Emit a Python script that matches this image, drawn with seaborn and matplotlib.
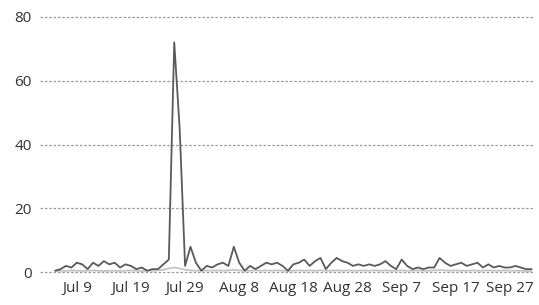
import numpy as np
import pandas as pd
import matplotlib
matplotlib.use("Agg")
import matplotlib.pyplot as plt
import seaborn as sns

start_date = "2020-07-05"
main_values = [
    0.5, 1, 2, 1.5, 3, 2.5, 1, 3, 2, 3.5, 2.5, 3, 1.5, 2.5, 2, 1, 1.5, 0.5, 1, 1,
    2.5, 4, 72, 45, 2, 8, 3, 0.5, 2, 1.5, 2.5, 3, 2, 8, 3, 0.5, 2, 1,
    2, 3, 2.5, 3, 2, 0.5, 2.5, 3, 4, 2, 3.5, 4.5, 1, 3, 4.5, 3.5, 3, 2, 2.5, 2,
    2.5, 2, 2.5, 3.5, 2, 1, 4, 2, 1, 1.5, 1, 1.5, 1.5, 4.5, 3, 2, 2.5, 3, 2, 2.5,
    3, 1.5, 2.5, 1.5, 2, 1.5, 1.5, 2, 1.5, 1, 1,
]
second_values = [
    0.3, 0.5, 0.4, 0.6, 0.5, 0.4, 0.5, 0.6, 0.5, 0.4, 0.5, 0.5, 0.4, 0.5, 0.6, 0.5, 0.4, 0.5, 0.5, 0.6,
    0.8, 1.2, 1.5, 1.2, 0.8, 0.6, 0.5, 0.5, 0.6, 0.5, 0.6, 0.5, 0.6, 0.8, 0.6, 0.5, 0.5, 0.6,
    0.5, 0.6, 0.5, 0.6, 0.5, 0.4, 0.5, 0.6, 0.5, 0.6, 0.5, 0.6, 0.5, 0.5, 0.6, 0.5, 0.6, 0.5, 0.5, 0.6,
    0.5, 0.6, 0.5, 0.6, 0.5, 0.5, 0.6, 0.5, 0.5, 0.6, 0.5, 0.5, 0.6, 0.7, 0.6, 0.5, 0.6, 0.5, 0.5, 0.6,
    0.5, 0.5, 0.6, 0.5, 0.5, 0.6, 0.5, 0.5, 0.5, 0.4, 0.4,
]
y_ticks = [0, 20, 40, 60, 80]
x_tick_labels = ["Jul 9", "Jul 19", "Jul 29", "Aug 8", "Aug 18", "Aug 28", "Sep 7", "Sep 17", "Sep 27"]

dates = pd.date_range(start_date, periods=len(main_values), freq="D")
df = pd.DataFrame({
    "date": np.concatenate([dates, dates]),
    "value": main_values + second_values,
    "series": ["main"] * len(main_values) + ["second"] * len(second_values),
})

sns.set_theme(style="white")
plt.rcParams["font.family"] = ["Open Sans", "DejaVu Sans"]

fig = plt.figure(figsize=(5.39, 3.05), dpi=100)
ax = fig.add_axes([40 / 539, 0.103, 493 / 539, 0.846])

sns.lineplot(data=df, x="date", y="value", hue="series",
             palette={"main": "#5a5a5a", "second": "#c4c4c4"},
             hue_order=["second", "main"], linewidth=1.3, ax=ax, legend=False)

ax.set_ylim(-0.4, 80.4)
ax.set_xlim(pd.Timestamp("2020-07-02 05:00"), pd.Timestamp("2020-10-01 06:00"))
ax.set_yticks(y_ticks)
tick_dates = pd.date_range("2020-07-09", periods=len(x_tick_labels), freq="10D")
ax.set_xticks(tick_dates)
ax.set_xticklabels(x_tick_labels)
ax.set_xlabel("")
ax.set_ylabel("")
ax.yaxis.grid(True, color="#9a9a9a", linestyle=(0, (2, 1.5)), linewidth=0.9)
ax.xaxis.grid(False)
for s in ax.spines.values():
    s.set_visible(False)
ax.tick_params(axis="both", length=0, labelsize=11, colors="#333333")
ax.tick_params(axis="y", pad=6)
ax.tick_params(axis="x", pad=5)

fig.savefig("out.png", dpi=100)
